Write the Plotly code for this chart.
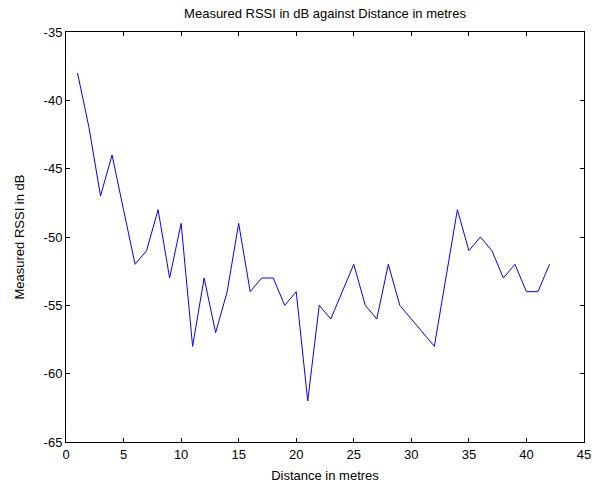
import plotly.graph_objects as go

distance = list(range(1, 43))
rssi = [-38, -42, -47, -44, -48, -52, -51, -48, -53, -49,
        -58, -53, -57, -54, -49, -54, -53, -53, -55, -54,
        -62, -55, -56, -54, -52, -55, -56, -52, -55, -56,
        -57, -58, -53, -48, -51, -50, -51, -53, -52, -54,
        -54, -52]
x_ticks = [0, 5, 10, 15, 20, 25, 30, 35, 40, 45]
y_ticks = [-35, -40, -45, -50, -55, -60, -65]

fig = go.Figure()
fig.add_trace(go.Scatter(x=distance, y=rssi, mode="lines",
                         line=dict(color="#0000ff", width=1)))

axis_common = dict(showline=True, linecolor="black", linewidth=1, mirror="ticks",
                   ticks="inside", ticklen=4, tickcolor="black", showgrid=False,
                   zeroline=False, automargin=False,
                   tickfont=dict(family="Liberation Sans, Arial", size=13, color="black"))

fig.update_layout(
    width=602, height=483,
    margin=dict(l=66, r=18, t=32, b=41),
    paper_bgcolor="white", plot_bgcolor="white",
    showlegend=False,
    font=dict(family="Liberation Sans, Arial", size=13, color="black"),
    title=dict(text="Measured RSSI in dB against Distance in metres",
               x=0.5, xanchor="center", xref="paper", y=1 - 13 / 483, yref="container",
               yanchor="middle", font=dict(size=13, color="black")),
    xaxis=dict(range=[0, 45], tickvals=x_ticks, ticktext=[str(t) for t in x_ticks],
               title=dict(text="Distance in metres", standoff=10, font=dict(size=13)),
               **axis_common),
    yaxis=dict(range=[-65, -35], tickvals=y_ticks, ticktext=[str(t) for t in y_ticks],
               title=dict(text="Measured RSSI in dB", standoff=16, font=dict(size=13)),
               **axis_common),
)
fig.write_html("out.html", config={"displayModeBar": False},
               post_script="document.body.style.margin='0';")
